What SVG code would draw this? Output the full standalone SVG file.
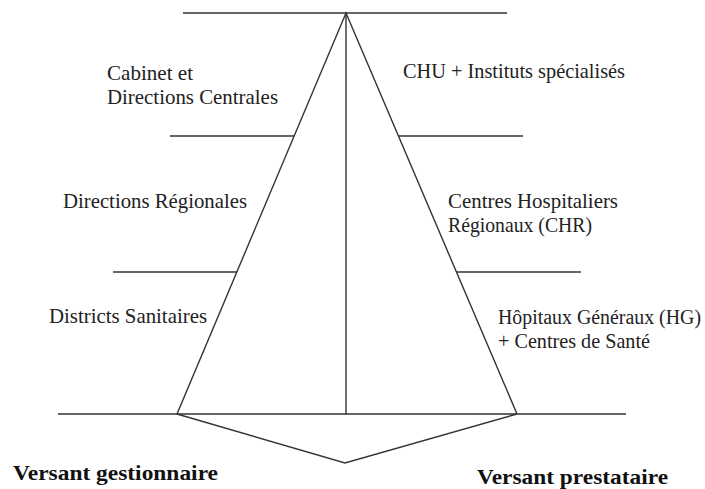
<svg xmlns="http://www.w3.org/2000/svg" width="705" height="489" viewBox="0 0 705 489">
<style>
.ln{stroke:#333;stroke-width:1.4;fill:none}
.t{font-family:"Liberation Serif","Times New Roman",serif;font-size:21px;fill:#222}
.b{font-family:"Liberation Serif","Times New Roman",serif;font-size:21px;font-weight:bold;fill:#111}
</style>
<rect width="705" height="489" fill="#fff"/>
<g id="connectors">
<line class="ln" x1="183" y1="13" x2="507" y2="13"/>
<line class="ln" x1="346" y1="13" x2="346" y2="414"/>
<polyline class="ln" points="177,414 346,13 517,414"/>
<line class="ln" x1="58" y1="414" x2="626" y2="414"/>
<polyline class="ln" points="177,414 345,463 517,414"/>
<line class="ln" x1="170" y1="136" x2="294" y2="136"/>
<line class="ln" x1="398" y1="136" x2="523" y2="136"/>
<line class="ln" x1="113" y1="272" x2="237" y2="272"/>
<line class="ln" x1="457" y1="272" x2="581" y2="272"/>
</g>
<g id="cabinet"><text class="t" x="107" y="80" textLength="86" lengthAdjust="spacingAndGlyphs">Cabinet et</text><text class="t" x="107" y="104" textLength="171" lengthAdjust="spacingAndGlyphs">Directions Centrales</text></g>
<g id="dir-regionales"><text class="t" x="63" y="208" textLength="184" lengthAdjust="spacingAndGlyphs">Directions Régionales</text></g>
<g id="districts"><text class="t" x="49" y="323" textLength="158" lengthAdjust="spacingAndGlyphs">Districts Sanitaires</text></g>
<g id="chu"><text class="t" x="403" y="78" textLength="222" lengthAdjust="spacingAndGlyphs">CHU + Instituts spécialisés</text></g>
<g id="chr"><text class="t" x="448" y="208" textLength="170" lengthAdjust="spacingAndGlyphs">Centres Hospitaliers</text><text class="t" x="448" y="232" textLength="144" lengthAdjust="spacingAndGlyphs">Régionaux (CHR)</text></g>
<g id="hg"><text class="t" x="498" y="324" style="font-size:20px" textLength="203" lengthAdjust="spacingAndGlyphs">Hôpitaux Généraux (HG)</text><text class="t" x="498" y="348" textLength="152" lengthAdjust="spacingAndGlyphs">+ Centres de Santé</text></g>
<g id="gestionnaire"><text class="b" x="13" y="480" textLength="205" lengthAdjust="spacingAndGlyphs">Versant gestionnaire</text></g>
<g id="prestataire"><text class="b" x="477" y="484" textLength="191" lengthAdjust="spacingAndGlyphs">Versant prestataire</text></g>
</svg>
